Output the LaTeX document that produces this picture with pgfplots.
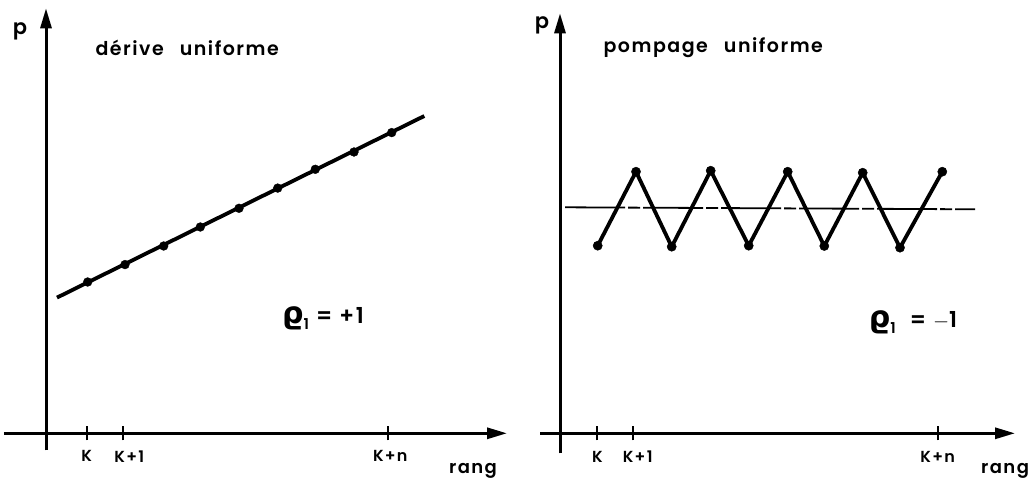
\documentclass[border=0pt]{standalone}
\usepackage{fontspec}
\setmainfont{Poppins}[LetterSpace=8, BoldFont={Poppins SemiBold}]
\newfontfamily\dejavu{DejaVu Sans}
\usepackage{pgfplots}
\pgfplotsset{compat=1.18}
\usetikzlibrary{arrows.meta}
\newcommand{\rhoone}{{\dejavu\fontsize{30}{32}\selectfont ϱ}\raisebox{-0.5ex}{\fontsize{15}{16}\selectfont 1}}
\begin{document}
\begin{tikzpicture}
\useasboundingbox (0pt,0pt) rectangle (1034pt,482pt);
\pgfplotsset{
  common/.style={
    x=1pt, y=1pt, anchor=origin,
    axis lines=middle,
    axis line style={line width=3pt, -{Triangle[length=20pt,width=11pt]}},
    ytick=\empty,
    major tick length=14pt, tick align=center,
    xtick style={line width=1.8pt, black},
    xticklabel style={font=\bfseries\fontsize{16}{18}\selectfont, yshift=-7pt},
    clip=false,
  },
}
% ---------------- left panel ----------------
\begin{axis}[common, at={(46pt,48.7pt)},
  xmin=-42, xmax=461, ymin=-17, ymax=425,
  xtick={40.7,77.3,342.3}, xticklabels={K,\hspace{12pt}K+1,\hspace{4pt}K+n}]
\addplot[line width=3.8pt, black] coordinates {(11,135.7) (378.3,317.3)};
\addplot[only marks, mark=*, mark size=4.4pt, black] coordinates {
 (41.7,151.3) (79,168.7) (117.7,187.3) (154.3,206.3) (193,225)
 (231.7,245.2) (269.3,264) (308,281.3) (345.7,300.7)};
\node[font=\bfseries\fontsize{21}{23}\selectfont] at (axis cs:-26,402) {p};
\node[anchor=west, font=\bfseries\fontsize{19}{22}\selectfont] at (axis cs:46,385) {dérive\hspace{16pt}uniforme};
\node[font=\bfseries\fontsize{18}{20}\selectfont] at (axis cs:427,-38) {rang};
\node[font=\bfseries\fontsize{22}{24}\selectfont] at (axis cs:277,115) {\rhoone\ = +1};
\end{axis}
% ---------------- right panel ----------------
\begin{axis}[common, at={(560pt,48.7pt)},
  xmin=-20, xmax=455, ymin=-20, ymax=420,
  xtick={37.3,72.7,377.7}, xticklabels={K,\hspace{10pt}K+1,K+n}]
\addplot[line width=1.8pt, black, dash pattern=on 60pt off 3pt on 12pt off 3pt] coordinates {(5,226) (415,224)};
\addplot[line width=3.8pt, black, mark=*, mark size=4.6pt, mark options={line width=0.4pt}] coordinates {
 (37.7,187.6) (76,261.6) (111.7,186.6) (150.7,262.6) (188.7,187.6)
 (227.7,261.6) (264.3,187.3) (302.7,260.6) (340,185.6) (382.3,261.6)};
\node[font=\bfseries\fontsize{21}{23}\selectfont] at (axis cs:-18,408) {p};
\node[anchor=west, font=\bfseries\fontsize{19}{22}\selectfont] at (axis cs:40,386) {pompage\hspace{16pt}uniforme};
\node[font=\bfseries\fontsize{18}{20}\selectfont] at (axis cs:445,-38) {rang};
\node[font=\bfseries\fontsize{22}{24}\selectfont] at (axis cs:353,111) {\rhoone\ \ = $-$1};
\end{axis}
\end{tikzpicture}
\end{document}
